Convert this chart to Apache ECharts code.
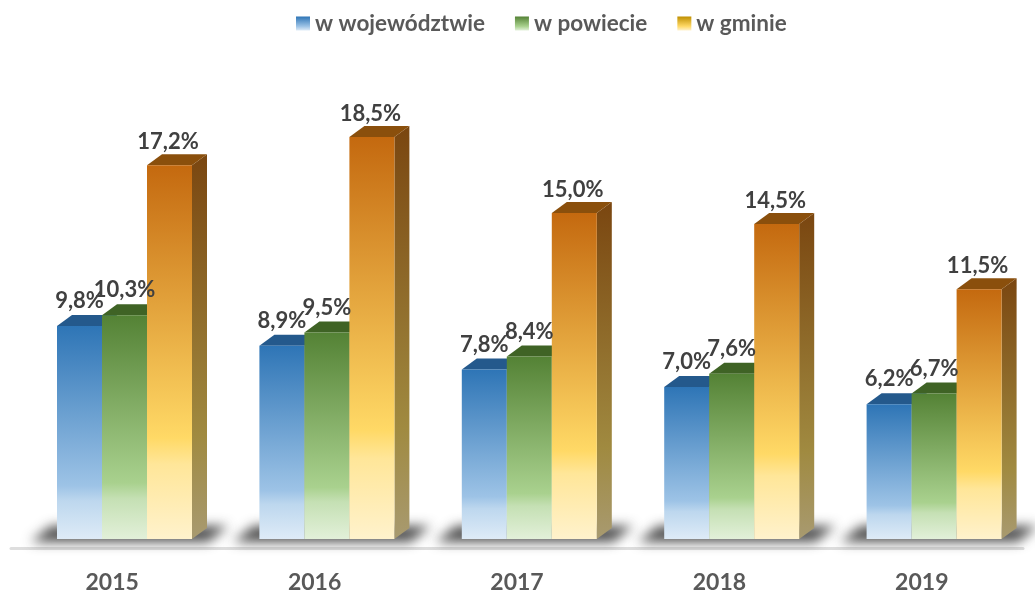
<!DOCTYPE html>
<html><head><meta charset="utf-8">
<style>html,body{margin:0;padding:0;background:#fff}#c{width:1035px;height:590px}</style>
<script src="https://cdn.jsdelivr.net/npm/echarts@6/dist/echarts.min.js"></script>
</head><body><div id="c"></div>
<script>
const years = ['2015','2016','2017','2018','2019'];
const wojewodztwo = [9.8,8.9,7.8,7.0,6.2];
const powiat = [10.3,9.5,8.4,7.6,6.7];
const gmina = [17.2,18.5,15.0,14.5,11.5];

const FONT = 'Lato';
const grad = (stops) => ({type:'linear',x:0,y:0,x2:0,y2:1,colorStops:stops.map(s=>({offset:s[0],color:s[1]}))});
const palettes = [
  {front:grad([[0,'#2e75b6'],[0.75,'#9dc3e6'],[0.82,'#bdd7ee'],[1,'#deebf7']]),
   top:'#24598c', side:grad([[0,'#1f4e79'],[1,'#8e9aa6']]), legend:grad([[0,'#2e75b6'],[0.7,'#9dc3e6'],[1,'#deebf7']])},
  {front:grad([[0,'#548235'],[0.75,'#a9d18e'],[0.82,'#c5e0b4'],[1,'#e2f0d9']]),
   top:'#3f6325', side:grad([[0,'#385723'],[1,'#97a08c']]), legend:grad([[0,'#548235'],[0.7,'#a9d18e'],[1,'#e2f0d9']])},
  {front:grad([[0,'#c4690f'],[0.73,'#ffd966'],[0.8,'#ffe699'],[1,'#fff2cc']]),
   top:'#8a4f0c', side:grad([[0,'#7a4610'],[0.73,'#a08a40'],[1,'#a89a70']]), legend:grad([[0,'#bf8f00'],[0.7,'#ffd966'],[1,'#fff2cc']])}
];
const BAND_BAR = 45/202.4, DX = 15, DY = 11, FAR = 3000;

function renderBar(si){
  return function(params, api){
    const idx = api.value(0), val = api.value(1);
    const band = api.size([1,0])[0];
    const c = api.coord([idx,0]);
    const t = api.coord([idx,val]);
    const w = band*BAND_BAR;
    const x0 = c[0] - 55.2 + si*w, x1 = x0 + w, yb = c[1], yt = t[1];
    const p = palettes[si], base = 10 + si*10;
    const children = [
      {type:'polygon',z2:base,shape:{points:[[x1,yb],[x1+DX,yb-DY],[x1+DX,yt-DY],[x1,yt]]},style:{fill:p.side}},
      {type:'polygon',z2:base,shape:{points:[[x0,yt],[x0+DX,yt-DY],[x1+DX,yt-DY],[x1,yt]]},style:{fill:p.top}},
      {type:'rect',z2:base+1,shape:{x:x0,y:yt,width:w,height:yb-yt},style:{fill:p.front}},
      {type:'text',z2:100,style:{text:val.toFixed(1).replace('.',',')+'%',x:x0+w/2-(si==2?1.5:0),y:yt-(si==2?23:25),align:'center',verticalAlign:'middle',
        font:'bold 22px '+FONT,fill:'#404040'}}
    ];
    if(si===0){
      const L = c[0]-55.2, R = L+3*w;
      children.unshift(
        {type:'polygon',z2:1,shape:{points:[[L-26-FAR,yb+3],[L-6-FAR,yb-13],[R+36-FAR,yb-13],[R+16-FAR,yb+3]]},
         style:{fill:'#333',shadowBlur:12,shadowOffsetX:FAR,shadowColor:'rgba(60,60,60,0.9)'}}
      );
    }
    return {type:'group',children};
  };
}
const names = ['w województwie','w powiecie','w gminie'];
const vals = [wojewodztwo,powiat,gmina];
const option = {
  animation:false,
  backgroundColor:'#fff',
  legend:{top:7,left:291,itemWidth:14,itemHeight:14,itemGap:30,data:names,
    textStyle:{fontFamily:FONT,fontWeight:'bold',fontSize:22.5,color:'#595959'},icon:'rect'},
  grid:{left:11,width:1012,top:61,height:478,outerBoundsMode:'none'},
  xAxis:{type:'category',data:years,offset:9,axisTick:{show:false},
    axisLine:{onZero:false,lineStyle:{color:'#dedede',width:3}},
    axisLabel:{margin:23,fontFamily:FONT,fontWeight:'bold',fontSize:23,color:'#595959'}},
  yAxis:{type:'value',min:0,max:22,show:false,splitLine:{show:false}},
  series:names.map((n,si)=>({
    name:n,type:'custom',renderItem:renderBar(si),
    itemStyle:{color:palettes[si].legend},
    encode:{x:0,y:1},
    data:vals[si].map((v,i)=>[i,v]),clip:false
  }))
};
echarts.init(document.getElementById('c'),null,{renderer:'canvas'}).setOption(option);
</script></body></html>
